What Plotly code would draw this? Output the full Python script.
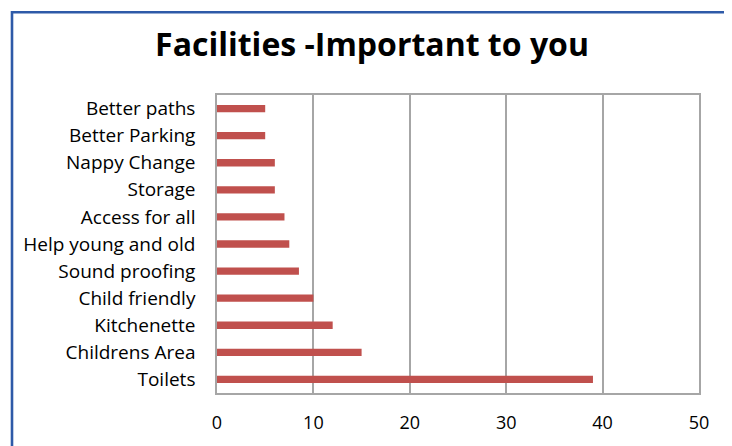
import plotly.graph_objects as go

# categories listed top to bottom as shown in the chart
facilities = ['Better paths', 'Better Parking', 'Nappy Change', 'Storage',
              'Access for all', 'Help young and old', 'Sound proofing',
              'Child friendly', 'Kitchenette', 'Childrens Area', 'Toilets']
counts = [5, 5, 6, 6, 7, 7.5, 8.5, 10, 12, 15, 39]
x_ticks = [0, 10, 20, 30, 40, 50]

# the page body has an 8px margin, so the figure is sized to fit inside it
W, H = 724, 438
pw, ph = 482, 298
ml, mt = 209, 87

fig = go.Figure()
fig.add_trace(go.Bar(
    x=counts,
    y=facilities,
    orientation='h',
    width=0.27,
    marker=dict(color='#C0504D', line=dict(width=0)),
))

# blue frame around the whole chart (bottom edge runs off the picture)
fig.add_shape(
    type='rect', xref='paper', yref='paper',
    x0=(4 - ml) / pw, x1=(719 - ml) / pw,
    y0=-(460 - (mt + ph)) / ph, y1=(mt + ph - 4.3) / ph,
    line=dict(color='#2E5AA8', width=2.6),
    layer='above',
)

fig.update_layout(
    width=W, height=H,
    margin=dict(l=ml, r=W - ml - pw, t=mt, b=H - mt - ph),
    paper_bgcolor='white',
    plot_bgcolor='white',
    showlegend=False,
    title=dict(
        text='<b>Facilities -Important to you</b>',
        x=(372 - 8) / W, xanchor='center', xref='container',
        y=1 - 37 / H, yanchor='middle', yref='container',
        font=dict(family='Open Sans', size=32, color='black'),
    ),
    font=dict(family='Open Sans', size=19, color='black'),
    xaxis=dict(
        range=[0, 50],
        tickvals=x_ticks,
        showgrid=True, gridcolor='#A6A6A6', gridwidth=1.5,
        showline=True, linecolor='#A6A6A6', linewidth=1.5,
        mirror=True,
        zeroline=False,
        ticks='', ticklen=0,
        tickfont=dict(size=18),
        ticklabelstandoff=13,
    ),
    yaxis=dict(
        categoryorder='array',
        categoryarray=facilities[::-1],
        showgrid=False,
        showline=True, linecolor='#A6A6A6', linewidth=1.5,
        mirror=True,
        ticks='', ticklen=0,
        ticklabelstandoff=16,
    ),
)

fig.write_html("out.html")
